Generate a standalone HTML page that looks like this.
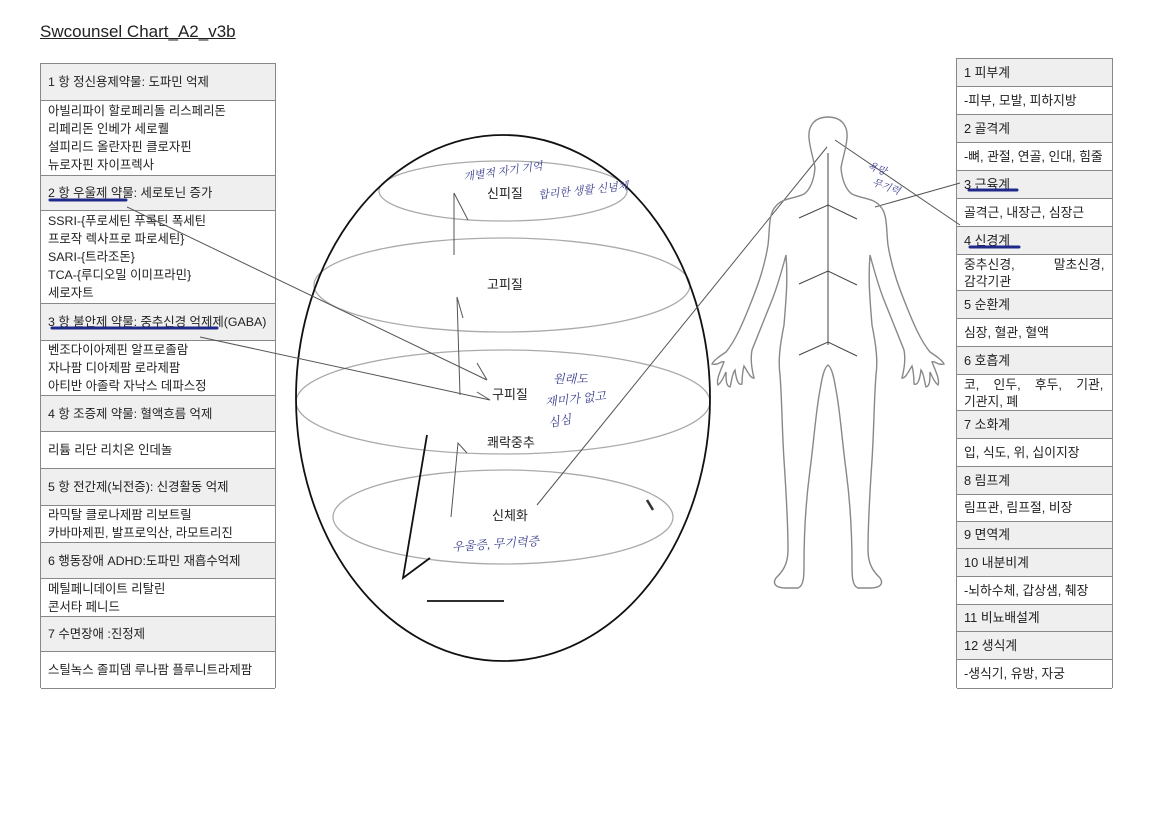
<!DOCTYPE html>
<html><head><meta charset="utf-8"><style>
*{margin:0;padding:0;box-sizing:border-box}
body{width:1152px;height:814px;background:#fff;position:relative;overflow:hidden;font-family:"Liberation Sans","Noto Sans CJK KR",sans-serif;color:#222}
.t{position:absolute;left:40px;top:22px;font-size:17px;text-decoration:underline;color:#222}
.tb{position:absolute;border:1px solid #888;border-bottom:none}
.r{position:absolute;left:0;right:0;border-bottom:1px solid #888;font-size:12.4px;padding-left:7px;line-height:18px;display:flex;flex-direction:column;justify-content:center;white-space:nowrap}
.rt .r{font-size:12.8px;padding-left:7px}
.h{background:#efefef}
.hw{position:absolute;font-family:"Liberation Serif","Noto Serif CJK SC",serif;font-style:italic;color:#3a3f8f;font-size:11px;white-space:nowrap}
svg{position:absolute;left:0;top:0}
.lb{position:absolute;font-size:13px}
</style></head><body>
<div class="t">Swcounsel Chart_A2_v3b</div>

<div class="tb" style="left:40px;top:63px;width:236px;height:625px">
<div class="r h" style="top:0;height:37px">1 항 정신용제약물: 도파민 억제</div>
<div class="r" style="top:37px;height:75px">아빌리파이 할로페리돌 리스페리돈<br>리페리돈 인베가 세로퀠<br>설피리드 올란자핀 클로자핀<br>뉴로자핀 자이프렉사</div>
<div class="r h" style="top:112px;height:35px">2 항 우울제 약물: 세로토닌 증가</div>
<div class="r" style="top:147px;height:93px">SSRI-{푸로세틴 푸록틴 폭세틴<br>프로작 렉사프로 파로세틴}<br>SARI-{트라조돈}<br>TCA-{루디오밀 이미프라민}<br>세로자트</div>
<div class="r h" style="top:240px;height:37px">3 항 불안제 약물: 중추신경 억제제(GABA)</div>
<div class="r" style="top:277px;height:55px">벤조다이아제핀 알프로졸람<br>자나팜 디아제팜 로라제팜<br>아티반 아졸락 자낙스 데파스정</div>
<div class="r h" style="top:332px;height:36px">4 항 조증제 약물: 혈액흐름 억제</div>
<div class="r" style="top:368px;height:37px">리튬 리단 리치온 인데놀</div>
<div class="r h" style="top:405px;height:37px">5 항 전간제(뇌전증): 신경활동 억제</div>
<div class="r" style="top:442px;height:37px">라믹탈 클로나제팜 리보트릴<br>카바마제핀, 발프로익산, 라모트리진</div>
<div class="r h" style="top:479px;height:36px">6 행동장애 ADHD:도파민 재흡수억제</div>
<div class="r" style="top:515px;height:38px">메틸페니데이트 리탈린<br>콘서타 페니드</div>
<div class="r h" style="top:553px;height:35px">7 수면장애 :진정제</div>
<div class="r" style="top:588px;height:37px">스틸녹스 졸피뎀 루나팜 플루니트라제팜</div>
</div>

<div class="tb rt" style="left:956px;top:58px;width:157px;height:630px">
<div class="r h" style="top:0;height:28px">1 피부계</div>
<div class="r" style="top:28px;height:28px">-피부, 모발, 피하지방</div>
<div class="r h" style="top:56px;height:28px">2 골격계</div>
<div class="r" style="top:84px;height:28px">-뼈, 관절, 연골, 인대, 힘줄</div>
<div class="r h" style="top:112px;height:28px">3 근육계</div>
<div class="r" style="top:140px;height:28px">골격근, 내장근, 심장근</div>
<div class="r h" style="top:168px;height:28px">4 신경계</div>
<div class="r" style="top:196px;height:36px;line-height:17px">중추신경,&nbsp;&nbsp;&nbsp;&nbsp;&nbsp;&nbsp;&nbsp;&nbsp;&nbsp;&nbsp;&nbsp;말초신경,<br>감각기관</div>
<div class="r h" style="top:232px;height:28px">5 순환계</div>
<div class="r" style="top:260px;height:28px">심장, 혈관, 혈액</div>
<div class="r h" style="top:288px;height:28px">6 호흡계</div>
<div class="r" style="top:316px;height:36px;line-height:17px">코,&nbsp;&nbsp;&nbsp;&nbsp;인두,&nbsp;&nbsp;&nbsp;&nbsp;후두,&nbsp;&nbsp;&nbsp;&nbsp;기관,<br>기관지, 폐</div>
<div class="r h" style="top:352px;height:28px">7 소화계</div>
<div class="r" style="top:380px;height:28px">입, 식도, 위, 십이지장</div>
<div class="r h" style="top:408px;height:28px">8 림프계</div>
<div class="r" style="top:436px;height:27px">림프관, 림프절, 비장</div>
<div class="r h" style="top:463px;height:27px">9 면역계</div>
<div class="r h" style="top:490px;height:28px">10 내분비계</div>
<div class="r" style="top:518px;height:28px">-뇌하수체, 갑상샘, 췌장</div>
<div class="r h" style="top:546px;height:27px">11 비뇨배설계</div>
<div class="r h" style="top:573px;height:28px">12 생식계</div>
<div class="r" style="top:601px;height:29px">-생식기, 유방, 자궁</div>
</div>

<svg width="1152" height="814" viewBox="0 0 1152 814">
<g fill="none" stroke="#aaa" stroke-width="1.3">
<ellipse cx="503" cy="191" rx="124" ry="30"/>
<ellipse cx="502" cy="285" rx="188" ry="47"/>
<ellipse cx="503" cy="402" rx="207" ry="52"/>
<ellipse cx="503" cy="517" rx="170" ry="47"/>
</g>
<ellipse cx="503" cy="398" rx="207" ry="263" fill="none" stroke="#111" stroke-width="1.8"/>
<g stroke="#1f2a8a" stroke-width="3" stroke-linecap="round">
<line x1="50" y1="200" x2="126" y2="200"/>
<line x1="52" y1="328" x2="217" y2="328"/>
<line x1="969" y1="190" x2="1017" y2="190"/>
<line x1="970" y1="247" x2="1019" y2="247"/>
</g>
<g stroke="#555" stroke-width="1" fill="none">
<line x1="127" y1="207" x2="487" y2="380"/>
<line x1="477" y1="363" x2="487" y2="380"/>
<line x1="200" y1="337" x2="490" y2="400"/>
<line x1="477" y1="392" x2="490" y2="400"/>
<polyline points="454,255 454,193 468,220"/>
<polyline points="460,395 457,297 463,318"/>
<polyline points="451,517 458,443 467,453"/>
<line x1="537" y1="505" x2="827" y2="147"/>
<line x1="835" y1="140" x2="960" y2="225"/>
<line x1="960" y1="183" x2="875" y2="207"/>
</g>
<g stroke="#111" stroke-width="1.8" fill="none">
<polyline points="427,435 403,578 430,558"/>
<line x1="427" y1="601" x2="504" y2="601"/>
</g>
<line x1="647" y1="500" x2="653" y2="510" stroke="#333" stroke-width="2.5"/>
<path fill="none" stroke="#888" stroke-width="1.4" d="M828,117 C840,117 848,124 847,138 C846,150 842,160 841,168 C842,180 846,190 852,194 C862,199 874,198 880,206 C888,214 886,230 888,245 C892,270 900,290 906,305 C912,320 920,340 930,352 C936,356 942,360 944,364 C938,366 934,360 932,362 C936,372 940,380 938,385 C934,382 932,376 930,372 C930,380 930,386 926,387 C924,380 924,374 921,370 C920,378 918,386 914,384 C914,376 913,370 912,366 C908,372 906,378 902,378 C904,370 906,360 904,350 C898,335 890,315 884,300 C878,285 874,270 870,255 C868,280 870,300 872,325 C876,345 878,360 876,375 C874,400 874,430 872,460 C870,490 868,520 868,550 C868,565 874,572 880,578 C884,584 880,588 870,588 L858,588 C852,586 852,575 852,565 C852,530 850,500 846,470 C842,440 840,410 836,390 C834,378 832,368 828,365 C824,368 822,378 820,390 C816,410 814,440 810,470 C806,500 804,530 804,565 C804,575 804,586 798,588 L786,588 C776,588 772,584 776,578 C782,572 788,565 788,550 C788,520 786,490 784,460 C782,430 782,400 780,375 C778,360 780,345 784,325 C786,300 788,280 786,255 C782,270 778,285 772,300 C766,315 758,335 752,350 C750,360 752,370 754,378 C750,378 748,372 744,366 C743,370 742,376 742,384 C738,386 736,378 735,370 C732,374 732,380 730,387 C726,386 726,380 726,372 C724,376 722,382 718,385 C716,380 720,372 724,362 C722,360 718,366 712,364 C714,360 720,356 726,352 C736,340 744,320 750,305 C756,290 764,270 768,245 C770,230 768,214 776,206 C782,198 794,199 804,194 C810,190 814,180 815,168 C814,160 810,150 809,138 C808,124 816,117 828,117 Z"/>
<g stroke="#444" stroke-width="1" fill="none">
<line x1="828" y1="153" x2="828" y2="345"/>
<polyline points="799,218 828,205 857,219"/>
<polyline points="799,284 828,271 857,285"/>
<polyline points="799,355 828,342 857,356"/>
</g>
</svg>

<div class="lb" style="left:487px;top:183px">신피질</div>
<div class="lb" style="left:487px;top:274px">고피질</div>
<div class="lb" style="left:492px;top:384px">구피질</div>
<div class="lb" style="left:487px;top:432px">쾌락중추</div>
<div class="lb" style="left:492px;top:505px">신체화</div>

<div class="hw" style="left:463px;top:163px;transform:rotate(-8deg)">개별적 자기 기억</div>
<div class="hw" style="left:538px;top:182px;transform:rotate(-6deg)">합리한 생활 신념체</div>
<div class="hw" style="left:553px;top:370px;font-size:12px">원래도</div>
<div class="hw" style="left:545px;top:390px;font-size:12px;transform:rotate(-6deg)">재미가 없고</div>
<div class="hw" style="left:548px;top:412px;font-size:12px;transform:rotate(-10deg)">심심</div>
<div class="hw" style="left:452px;top:535px;font-size:12px;transform:rotate(-4deg)">우울증, 무기력증</div>
<div class="hw" style="left:868px;top:160px;font-size:10px;transform:rotate(20deg)">욕망</div>
<div class="hw" style="left:872px;top:178px;font-size:10px;transform:rotate(20deg)">무기력</div>
</body></html>
